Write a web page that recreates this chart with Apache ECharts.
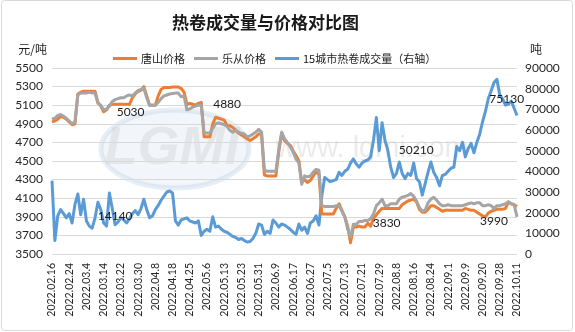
<!DOCTYPE html>
<html>
<head>
<meta charset="utf-8">
<script src="https://cdn.jsdelivr.net/npm/echarts@6/dist/echarts.min.js"></script>
<style>
  html, body { margin: 0; padding: 0; background: #fff; }
  #chart { width: 575px; height: 332px; }
</style>
</head>
<body>
<div id="chart"></div>
<script>
// Working days per month (2022), used as the category axis
const monthDays = [
  ['02', [16,17,18,21,22,23,24,25,28]],
  ['03', [1,2,3,4,7,8,9,10,11,14,15,16,17,18,21,22,23,24,25,28,29,30,31]],
  ['04', [1,2,6,7,8,11,12,13,14,15,18,19,20,21,22,24,25,26,27,28,29]],
  ['05', [5,6,7,9,10,11,12,13,16,17,18,19,20,23,24,25,26,27,30,31]],
  ['06', [1,2,6,7,8,9,10,13,14,15,16,17,20,21,22,23,24,27,28,29,30]],
  ['07', [1,4,5,6,7,8,11,12,13,14,15,18,19,20,21,22,25,26,27,28,29]],
  ['08', [1,2,3,4,5,8,9,10,11,12,15,16,17,18,19,22,23,24,25,26,29,30,31]],
  ['09', [1,2,5,6,7,8,9,13,14,15,16,19,20,21,22,23,26,27,28,29,30]],
  ['10', [8,9,10,11]]
];

// 唐山价格 (元/吨)
const tangshan = [
  4920,4930,4950,4980,4970,4950,4920,4890,4900,5220,
  5240,5250,5250,5250,5250,5250,5130,5090,5030,5050,
  5100,5110,5110,5110,5110,5110,5110,5110,5180,5220,
  5250,5260,5300,5200,5100,5100,5100,5200,5270,5290,
  5290,5290,5295,5295,5295,5280,5240,5110,5120,5110,
  5100,5120,5130,4760,4760,4760,4900,4970,4960,4950,
  4940,4880,4880,4860,4830,4800,4780,4760,4740,4720,
  4740,4760,4790,4790,4350,4340,4340,4340,4340,4600,
  4790,4720,4690,4670,4610,4560,4500,4270,4300,4270,
  4290,4340,4380,4360,3930,3930,3930,3930,3930,3990,
  4040,3970,3900,3800,3620,3790,3790,3800,3790,3790,
  3830,3800,3880,3920,3960,3990,3990,3990,3990,3990,
  3990,3990,4030,4050,4070,4080,4090,4060,3980,3950,
  3950,3980,4020,4020,4000,3980,3960,3970,3970,3970,
  3970,3970,3970,3970,3990,3980,3970,3970,3950,3930,
  3910,3900,3940,3960,3970,3980,3980,3980,3990,4060,
  4040,4030,4010
];

// 乐从价格 (元/吨)
const lecong = [
  4950,4960,4990,5000,4980,4960,4930,4900,4920,5210,
  5230,5230,5230,5240,5230,5230,5120,5100,5050,5060,
  5090,5140,5160,5170,5180,5180,5200,5210,5200,5230,
  5260,5270,5280,5180,5100,5100,5100,5130,5170,5200,
  5210,5220,5225,5230,5230,5190,5200,5050,5060,5080,
  5090,5100,5100,4800,4800,4800,4850,4900,4910,4900,
  4890,4870,4830,4810,4830,4810,4800,4790,4760,4770,
  4790,4810,4840,4810,4400,4390,4390,4390,4390,4620,
  4810,4740,4700,4650,4600,4520,4480,4250,4340,4330,
  4340,4380,4410,4400,4020,4010,4010,4010,4010,4020,
  4020,3960,3900,3770,3680,3820,3820,3850,3850,3860,
  3860,3880,3930,4020,4050,4090,4020,4020,4040,4040,
  4040,4090,4110,4120,4130,4150,4120,4070,4000,3960,
  3970,4050,4090,4110,4080,4040,4020,4020,4030,4020,
  4020,4020,4020,4020,4030,4040,4050,4040,4050,4050,
  4020,4020,4030,4020,3990,4020,4020,4030,4040,4060,
  4040,4030,3900
];

// 15城市热卷成交量 (吨, right axis)
const volume = [
  35500,6500,18500,21500,19500,17500,19500,15000,24000,29000,
  19000,26500,16000,13500,12500,17500,25000,21500,15000,13500,
  29500,22000,14140,15500,17500,16500,15000,17000,19500,21000,
  19000,22000,26500,21500,17500,18500,21500,23500,26000,28000,
  30000,30500,29500,16000,14000,16500,17000,17500,16000,15500,
  15000,16000,9000,11000,12000,11000,18000,13000,13500,12000,
  11000,10500,9500,8500,8000,7000,7500,6500,5800,6000,
  7500,10000,14500,14000,9500,11000,10000,16500,15000,13000,
  14500,14000,13000,12000,10500,9500,14500,11500,13000,10000,
  15000,16000,18500,14000,28000,37000,36000,35000,35500,36000,
  39500,38000,40000,41000,44000,46000,43500,42000,44000,45000,
  45500,47000,55000,66000,50000,63500,55000,50210,42000,37000,
  39000,44500,39000,36500,39000,38000,44000,36500,35000,28500,
  34000,39500,44500,39500,37000,33000,38000,38500,40000,41500,
  42000,52000,50000,54000,47000,51000,53500,49000,54000,58000,
  64000,69000,75130,79000,83000,84500,77000,75000,72000,72500,
  74000,70500,67000
];

const categories = [];
monthDays.forEach(([m, days]) => days.forEach(d => categories.push('2022.' + m + '.' + d)));

const numFont = 'Lato, "Noto Sans CJK SC", sans-serif';
const cjkFont = '"Noto Sans CJK SC", Lato, sans-serif';

// value labels shown on a few points of each line
function labelled(values, notes) {
  return values.map((v, i) => notes[i]
    ? { value: v, symbol: 'circle', symbolSize: 2,
        label: Object.assign({ show: true, color: '#1a1a1a', fontSize: 12, fontFamily: numFont }, notes[i]) }
    : v);
}

const tangshanNotes = {
  18: { position: 'right', distance: 12 },
  61: { position: 'top', distance: 15 },
  110: { position: 'right', distance: 4 }
};
const lecongNotes = {
  154: { position: 'bottom', distance: 6 }
};
const volumeNotes = {
  22: { position: 'top', distance: 2 },
  117: { position: 'right', distance: 10 },
  152: { position: 'right', distance: 0, offset: [-2, -5] }
};

const plain = v => String(v);

const chart = echarts.init(document.getElementById('chart'), null, { renderer: 'canvas' });

chart.setOption({
  animation: false,
  backgroundColor: '#ffffff',
  title: {
    text: '热卷成交量与价格对比图',
    left: 167, top: 9,
    textStyle: { fontFamily: cjkFont, fontSize: 17, fontWeight: 'bold', color: '#1a1a1a' }
  },
  legend: {
    left: 108, top: 48,
    itemWidth: 24, itemHeight: 3, itemGap: 9,
    icon: 'rect',
    textStyle: { fontFamily: cjkFont, fontSize: 11, color: '#1a1a1a', padding: [0, 0, 0, -1] },
    data: ['唐山价格', '乐从价格', '15城市热卷成交量（右轴）']
  },
  grid: { left: 52, right: 58, top: 68, bottom: 78 },
  graphic: [
    {
      type: 'rect', silent: true, z: 0,
      shape: { x: 1.5, y: 0.5, width: 571, height: 330, r: 3 },
      style: { fill: 'none', stroke: '#d9d9d9', lineWidth: 1 }
    },
    {
      type: 'group', silent: true, z: 1,
      children: [
        {
          type: 'ellipse',
          shape: { cx: 175, cy: 149, rx: 74, ry: 39 },
          style: { fill: 'rgba(205,218,236,0.25)', stroke: 'rgba(175,198,226,0.3)', lineWidth: 5 }
        },
        {
          type: 'text', x: 172, y: 149,
          style: { text: 'LGMI', fontSize: 54, fontWeight: 'bold', fontStyle: 'italic',
                   fontFamily: 'Liberation Sans, sans-serif',
                   fill: 'rgba(195,195,195,0.28)', align: 'center', verticalAlign: 'middle' }
        },
        {
          type: 'text', x: 372, y: 149,
          style: { text: 'www. lgmi.com', fontSize: 29, fontFamily: 'Liberation Sans, sans-serif',
                   fill: 'rgba(205,205,205,0.4)', align: 'center', verticalAlign: 'middle' }
        }
      ]
    }
  ],
  xAxis: {
    type: 'category',
    data: categories,
    boundaryGap: false,
    axisLine: { show: false },
    axisTick: { show: false },
    axisLabel: {
      interval: 5, rotate: 90, margin: 9,
      fontFamily: numFont, fontSize: 10.5, color: '#262626'
    }
  },
  yAxis: [
    {
      type: 'value', min: 3500, max: 5500, interval: 200,
      name: '元/吨', nameLocation: 'end', nameGap: 13,
      nameTextStyle: { fontFamily: cjkFont, fontSize: 12, color: '#1a1a1a', align: 'right', padding: [0, 5, 0, 0] },
      axisLine: { show: false }, axisTick: { show: false },
      axisLabel: { margin: 9, fontFamily: numFont, fontSize: 12, color: '#262626', formatter: plain },
      splitLine: { lineStyle: { color: '#d9d9d9', width: 1 } }
    },
    {
      type: 'value', min: 0, max: 90000, interval: 10000,
      name: '吨', nameLocation: 'end', nameGap: 13,
      nameTextStyle: { fontFamily: cjkFont, fontSize: 12, color: '#1a1a1a', align: 'left', padding: [0, 0, 0, 13] },
      axisLine: { show: false }, axisTick: { show: false },
      axisLabel: { margin: 8, fontFamily: numFont, fontSize: 12, color: '#262626', formatter: plain },
      splitLine: { show: false }
    }
  ],
  series: [
    {
      name: '唐山价格', type: 'line', yAxisIndex: 0, z: 3,
      symbol: 'none', showSymbol: true, showAllSymbol: true,
      color: '#ED7D31',
      lineStyle: { width: 3, color: '#ED7D31', join: 'round' },
      labelLayout: { hideOverlap: false },
      data: labelled(tangshan, tangshanNotes)
    },
    {
      name: '乐从价格', type: 'line', yAxisIndex: 0, z: 4,
      symbol: 'none', showSymbol: true, showAllSymbol: true,
      color: '#A5A5A5',
      lineStyle: { width: 3, color: '#A5A5A5', join: 'round' },
      labelLayout: { hideOverlap: false },
      data: labelled(lecong, lecongNotes)
    },
    {
      name: '15城市热卷成交量（右轴）', type: 'line', yAxisIndex: 1, z: 2,
      symbol: 'none', showSymbol: true, showAllSymbol: true,
      color: '#5B9BD5',
      lineStyle: { width: 3, color: '#5B9BD5', join: 'round' },
      labelLayout: { hideOverlap: false },
      data: labelled(volume, volumeNotes)
    }
  ]
});
</script>
</body>
</html>
